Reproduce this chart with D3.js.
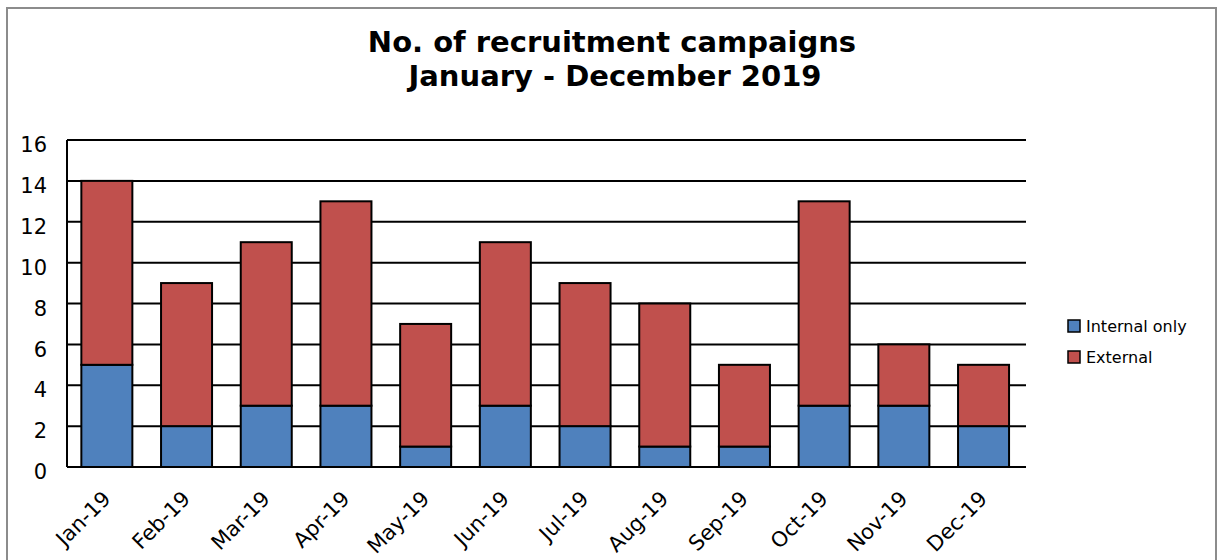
<!DOCTYPE html>
<html><head><meta charset="utf-8">
<script src="https://cdn.jsdelivr.net/npm/d3@7/dist/d3.min.js"></script>
<style>body{margin:0;background:#fff;}svg{display:block;font-family:"DejaVu Sans",Verdana,sans-serif;}</style>
</head><body>
<svg id="c" width="1222" height="560"></svg>
<script>
const categories = ["Jan-19","Feb-19","Mar-19","Apr-19","May-19","Jun-19","Jul-19","Aug-19","Sep-19","Oct-19","Nov-19","Dec-19"];
const internalOnly = [5,2,3,3,1,3,2,1,1,3,3,2];
const external = [9,7,8,10,6,8,7,7,4,10,3,3];
const seriesNames = ["Internal only","External"];
const seriesColors = ["#4F81BD","#C0504D"];
const yTicks = [0,2,4,6,8,10,12,14,16];

const svg = d3.select("#c");
svg.append("rect").attr("x",7).attr("y",8).attr("width",1209).attr("height",560)
  .attr("fill","#fff").attr("stroke","#8c8c8c").attr("stroke-width",2);

const title = svg.append("text").attr("text-anchor","middle").attr("font-weight","bold")
  .attr("font-size",29).attr("fill","#000");
title.append("tspan").attr("x",612).attr("y",52).text("No. of recruitment campaigns");
title.append("tspan").attr("x",615).attr("y",86).text("January - December 2019");

const L=67,R=1026,T=140,B=467;
const x = d3.scaleBand().domain(categories).range([L,L+956.4]).paddingInner(0.36).paddingOuter(0.18);
const y = d3.scaleLinear().domain([0,16]).range([B,T]);

const g = svg.append("g");
g.selectAll("line.grid").data(yTicks).join("line")
  .attr("x1",L).attr("x2",R).attr("y1",d=>y(d)).attr("y2",d=>y(d))
  .attr("stroke","#000").attr("stroke-width",2);
g.append("line").attr("x1",L).attr("x2",L).attr("y1",T).attr("y2",B).attr("stroke","#000").attr("stroke-width",2);

const data = categories.map((c,i)=>({cat:c,"Internal only":internalOnly[i],"External":external[i]}));
const stacked = d3.stack().keys(seriesNames)(data);
stacked.forEach((s,si)=>{
  g.selectAll("rect.s"+si).data(s).join("rect")
    .attr("x",d=>x(d.data.cat)).attr("width",x.bandwidth())
    .attr("y",d=>y(d[1])).attr("height",d=>y(d[0])-y(d[1]))
    .attr("fill",seriesColors[si]).attr("stroke","#000").attr("stroke-width",2);
});

const yAxis = d3.axisLeft(y).tickValues(yTicks).tickSize(0).tickPadding(20);
const ya = svg.append("g").attr("transform",`translate(${L},5)`).call(yAxis);
ya.select(".domain").remove();
ya.selectAll("text").attr("font-size",21).attr("font-family","DejaVu Sans, Verdana, sans-serif").attr("fill","#000");

const xAxis = d3.axisBottom(x).tickSize(0).tickPadding(0);
const xa = svg.append("g").attr("transform",`translate(0,${B})`).call(xAxis);
xa.select(".domain").remove();
xa.selectAll("text").attr("font-size",21).attr("font-family","DejaVu Sans, Verdana, sans-serif").attr("fill","#000")
  .attr("text-anchor","end").attr("dy",0).attr("dx",0)
  .attr("transform","translate(5,33) rotate(-45)");

const lg = svg.append("g");
seriesNames.forEach((n,i)=>{
  const yy = 320 + i*31;
  lg.append("rect").attr("x",1068).attr("y",yy).attr("width",12).attr("height",12)
    .attr("fill",seriesColors[i]).attr("stroke","#000").attr("stroke-width",1.5);
  lg.append("text").attr("x",1086).attr("y",yy+11.5).attr("font-size",16).attr("fill","#000").text(n);
});
</script>
</body></html>
